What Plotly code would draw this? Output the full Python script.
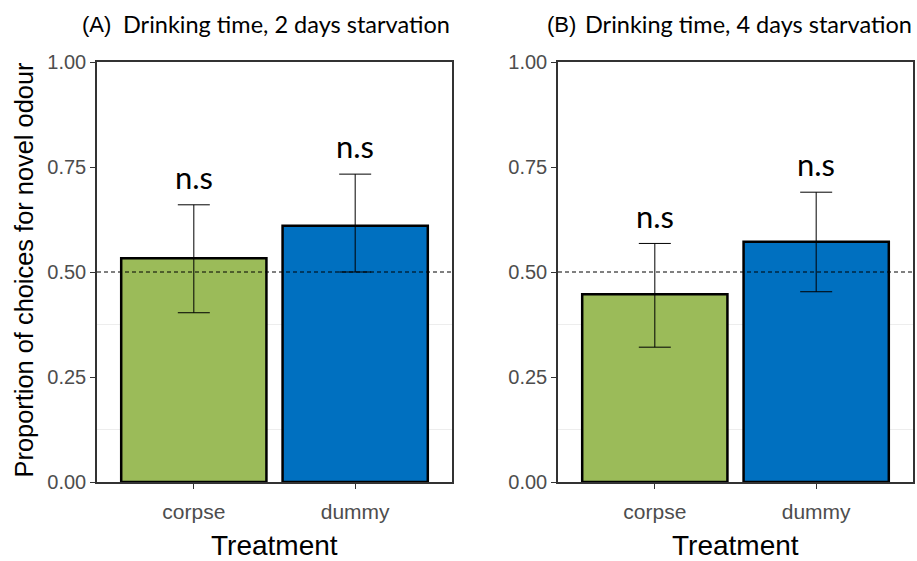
import plotly.graph_objects as go

# ---- data ----
panel_labels = ["(A)", "(B)"]
panel_titles = ["Drinking time, 2 days starvation", "Drinking time, 4 days starvation"]
treatments = ["corpse", "dummy"]
bar_colors = ["#9BBB59", "#0070C0"]

means_2d = [0.533, 0.610]
upper_2d = [0.660, 0.733]
lower_2d = [0.403, 0.500]

means_4d = [0.447, 0.572]
upper_4d = [0.568, 0.690]
lower_4d = [0.321, 0.453]

sig_labels = ["n.s", "n.s"]
y_ticks = [0.0, 0.25, 0.5, 0.75, 1.0]
y_ticktext = ["0.00", "0.25", "0.50", "0.75", "1.00"]
chance_level = 0.5
minor_grid = [0.125, 0.375]

W, H = 917, 561
ML, MR, MT, MB = 0, 0, 62, 79
plot_h = H - MT - MB


def px_x(p):
    return p / W


def px_y(p):
    return (H - MB - p) / plot_h


fig = go.Figure()

panels = [
    (means_2d, upper_2d, lower_2d, "x", "y"),
    (means_4d, upper_4d, lower_4d, "x2", "y2"),
]

for means, up, lo, xa, ya in panels:
    fig.add_trace(go.Bar(
        x=treatments, y=means,
        marker=dict(color=bar_colors, line=dict(color="black", width=2.5)),
        width=0.9,
        error_y=dict(type="data", symmetric=False,
                     array=[u - m for u, m in zip(up, means)],
                     arrayminus=[m - l for m, l in zip(means, lo)],
                     color="black", thickness=1, width=16),
        xaxis=xa, yaxis=ya, showlegend=False, hoverinfo="skip",
    ))
    for t, u, s in zip(treatments, up, sig_labels):
        fig.add_annotation(x=t, y=u + 0.066, text=s, showarrow=False,
                           xref=xa, yref=ya, yanchor="middle",
                           font=dict(family="Lato", size=31, color="black"))

domains = [[97 / W, 452 / W], [558 / W, 913 / W]]
axis_common = dict(showline=True, mirror=True, linecolor="#333333", linewidth=1.5,
                   ticks="outside", ticklen=5, tickcolor="#333333", showgrid=False,
                   zeroline=False)
y_tick_font = dict(family="Liberation Sans", size=20, color="#4d4d4d")
x_tick_font = dict(family="Liberation Sans", size=21, color="#4d4d4d")

fig.update_layout(
    width=W, height=H,
    margin=dict(l=ML, r=MR, t=MT, b=MB),
    paper_bgcolor="white", plot_bgcolor="white",
    xaxis=dict(domain=domains[0], range=[-0.6, 1.6], type="category",
               tickfont=x_tick_font, ticklabelstandoff=5, anchor="y", **axis_common),
    xaxis2=dict(domain=domains[1], range=[-0.6, 1.6], type="category",
                tickfont=x_tick_font, ticklabelstandoff=5, anchor="y2", **axis_common),
    yaxis=dict(range=[0, 1], tickvals=y_ticks, ticktext=y_ticktext, anchor="x",
               tickfont=y_tick_font, **axis_common),
    yaxis2=dict(range=[0, 1], tickvals=y_ticks, ticktext=y_ticktext, anchor="x2",
                tickfont=y_tick_font, **axis_common),
)

# chance line and faint minor grid
for xa, ya in [("x", "y"), ("x2", "y2")]:
    for g in minor_grid:
        fig.add_shape(type="line", xref=f"{xa} domain", yref=ya, x0=0, x1=1, y0=g, y1=g,
                      line=dict(color="#ededed", width=1), layer="below")
    fig.add_shape(type="line", xref=f"{xa} domain", yref=ya, x0=0, x1=1,
                  y0=chance_level, y1=chance_level,
                  line=dict(color="black", width=1, dash="4px,3px"), layer="above")

# panel titles
title_pos = [(80, 452), (545, 914)]
for (xl, xr), lab, ttl in zip(title_pos, panel_labels, panel_titles):
    fig.add_annotation(xref="paper", yref="paper", x=px_x(xl), y=px_y(24),
                       xanchor="left", yanchor="middle", text=lab, showarrow=False,
                       font=dict(family="Liberation Sans", size=22, color="black"))
    fig.add_annotation(xref="paper", yref="paper", x=px_x(xr), y=px_y(24),
                       xanchor="right", yanchor="middle", text=ttl, showarrow=False,
                       font=dict(family="Lato", size=23.5, color="black"))

# axis titles
for xc in [274.5, 735.5]:
    fig.add_annotation(xref="paper", yref="paper", x=px_x(xc), y=px_y(545),
                       xanchor="center", yanchor="middle", text="Treatment",
                       showarrow=False,
                       font=dict(family="Liberation Sans", size=28, color="black"))

fig.add_annotation(xref="paper", yref="paper", x=px_x(23), y=px_y(270.5),
                   xanchor="center", yanchor="middle", textangle=-90,
                   text="Proportion of choices for novel odour", showarrow=False,
                   font=dict(family="Liberation Sans", size=25.4, color="black"))

fig.write_html("out.html", config={"displayModeBar": False},
               post_script="document.body.style.margin='0';document.body.style.overflow='hidden';")
